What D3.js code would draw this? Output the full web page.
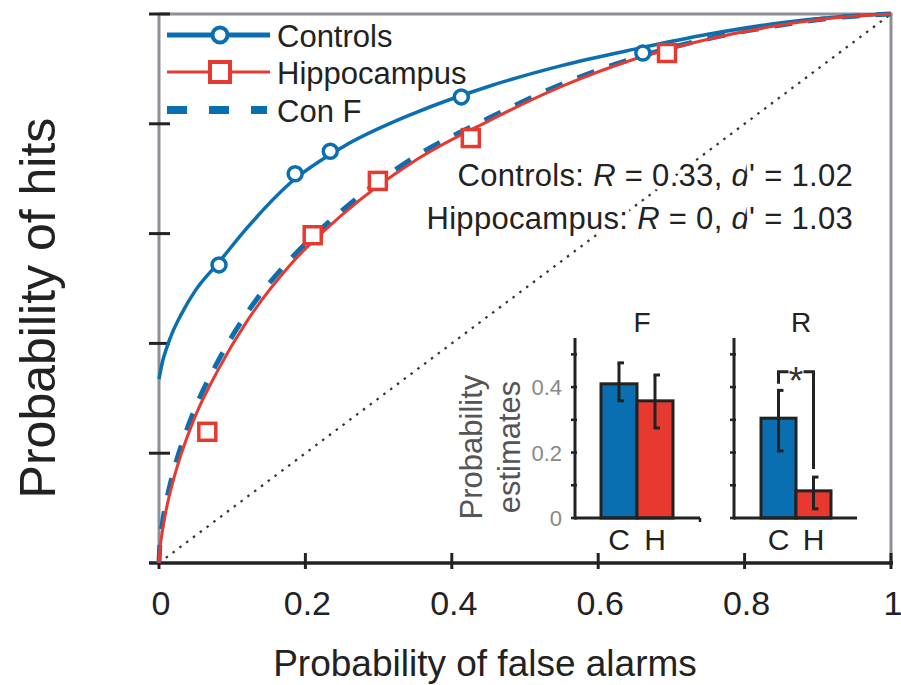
<!DOCTYPE html>
<html>
<head>
<meta charset="utf-8">
<script src="https://cdn.jsdelivr.net/npm/d3@7"></script>
<style>
  body { margin: 0; background: #fff; }
  svg { display: block; font-family: "Liberation Sans", Arial, sans-serif; }
</style>
</head>
<body>
<div id="chartArea"></div>
<script>
// ROC data
const xTicks = [0, 0.2, 0.4, 0.6, 0.8, 1];
const yTicks = [0, 0.2, 0.4, 0.6, 0.8, 1];

// observed points
const controlsFA = [0.082, 0.186, 0.234, 0.413, 0.661];
const controlsHit = [0.543, 0.709, 0.750, 0.849, 0.929];
const hippoFA = [0.066, 0.210, 0.299, 0.426, 0.694];
const hippoHit = [0.239, 0.597, 0.696, 0.774, 0.929];

// fitted curves
const controlsCurveFA = [0, 0.005, 0.01, 0.02, 0.03, 0.05, 0.08, 0.12, 0.18, 0.25, 0.35, 0.45, 0.55, 0.65, 0.75, 0.85, 0.93, 1];
const controlsCurveHit = [0.335, 0.368, 0.390, 0.425, 0.452, 0.497, 0.545, 0.610, 0.693, 0.757, 0.820, 0.868, 0.906, 0.936, 0.963, 0.984, 0.995, 1];
const hippoCurveFA = [0, 0.001, 0.005, 0.01, 0.02, 0.03, 0.05, 0.08, 0.12, 0.18, 0.25, 0.35, 0.45, 0.55, 0.65, 0.75, 0.85, 0.93, 1];
const hippoCurveHit = [0, 0.020, 0.061, 0.098, 0.153, 0.197, 0.269, 0.350, 0.440, 0.544, 0.634, 0.733, 0.805, 0.868, 0.918, 0.954, 0.980, 0.994, 1];
const conFCurveHit = [0, 0.030, 0.075, 0.112, 0.168, 0.212, 0.284, 0.366, 0.455, 0.554, 0.642, 0.740, 0.810, 0.872, 0.920, 0.955, 0.980, 0.994, 1];

const legendLabels = ["Controls", "Hippocampus", "Con F"];

// inset bars
const groups = ["C", "H"];
const famMeans = [0.41, 0.358];
const famLow = [0.358, 0.275];
const famHigh = [0.474, 0.437];
const recMeans = [0.305, 0.083];
const recLow = [0.205, 0.028];
const recHigh = [0.39, 0.125];
const insetTicks = [0, 0.1, 0.2, 0.3, 0.4, 0.5];
const insetTickLabels = [0, 0.2, 0.4];

const blue = "#0a6fb0";
const red = "#e63a30";
const grey = "#8b9097";
const ink = "#222";

const svg = d3.select("#chartArea").append("svg")
  .attr("width", 901)
  .attr("height", 685);

const x = d3.scaleLinear().domain([0, 1]).range([159, 891]);
const y = d3.scaleLinear().domain([0, 1]).range([563, 14]);

// frame: grey left / top / right
svg.append("line").attr("x1", x(0)).attr("x2", x(0)).attr("y1", y(1)).attr("y2", y(0))
  .attr("stroke", grey).attr("stroke-width", 3);
svg.append("line").attr("x1", x(0)).attr("x2", x(1) + 1.5).attr("y1", y(1)).attr("y2", y(1))
  .attr("stroke", grey).attr("stroke-width", 3);
svg.append("line").attr("x1", x(1)).attr("x2", x(1)).attr("y1", y(1)).attr("y2", y(0))
  .attr("stroke", grey).attr("stroke-width", 3);

// chance diagonal
svg.append("line").attr("x1", x(0)).attr("y1", y(0)).attr("x2", x(1)).attr("y2", y(1))
  .attr("stroke", "#333").attr("stroke-width", 2.2).attr("stroke-dasharray", "2.5,6");

// y ticks (no labels)
svg.selectAll(".ytick").data(yTicks.slice(1)).enter().append("line")
  .attr("x1", x(0) - 10).attr("x2", x(0) + 11)
  .attr("y1", d => y(d)).attr("y2", d => y(d))
  .attr("stroke", ink).attr("stroke-width", 3);

// x axis
svg.append("line").attr("x1", x(0) - 10).attr("x2", x(1) + 2).attr("y1", y(0)).attr("y2", y(0))
  .attr("stroke", ink).attr("stroke-width", 3.5);
svg.selectAll(".xtick").data(xTicks).enter().append("line")
  .attr("x1", d => x(d)).attr("x2", d => x(d))
  .attr("y1", y(0) - 10).attr("y2", y(0) + 6)
  .attr("stroke", ink).attr("stroke-width", 3);
svg.selectAll(".xlab").data(xTicks).enter().append("text")
  .attr("x", d => x(d) + 2).attr("y", 615)
  .attr("text-anchor", "middle").attr("font-size", 34).attr("fill", ink)
  .text(d => d);

svg.append("text").attr("x", 485).attr("y", 676)
  .attr("text-anchor", "middle").attr("font-size", 37).attr("fill", ink)
  .text("Probability of false alarms");
svg.append("text").attr("transform", "translate(55,308) rotate(-90)")
  .attr("text-anchor", "middle").attr("font-size", 50).attr("fill", ink)
  .text("Probability of hits");

// curves
const line = d3.line().x(d => x(d[0])).y(d => y(d[1])).curve(d3.curveMonotoneX);
svg.append("path").datum(hippoCurveFA.map((f, i) => [f, conFCurveHit[i]]))
  .attr("d", line).attr("fill", "none").attr("stroke", blue)
  .attr("stroke-width", 5).attr("stroke-dasharray", "18,16");
svg.append("path").datum(controlsCurveFA.map((f, i) => [f, controlsCurveHit[i]]))
  .attr("d", line).attr("fill", "none").attr("stroke", blue).attr("stroke-width", 3.5);
svg.append("path").datum(hippoCurveFA.map((f, i) => [f, hippoCurveHit[i]]))
  .attr("d", line).attr("fill", "none").attr("stroke", red).attr("stroke-width", 3);

// markers
svg.selectAll(".cpt").data(controlsFA).enter().append("circle")
  .attr("cx", d => x(d)).attr("cy", (d, i) => y(controlsHit[i])).attr("r", 7)
  .attr("fill", "#fff").attr("stroke", blue).attr("stroke-width", 3.5);
svg.selectAll(".hpt").data(hippoFA).enter().append("rect")
  .attr("x", d => x(d) - 8.5).attr("y", (d, i) => y(hippoHit[i]) - 8.5)
  .attr("width", 17).attr("height", 17)
  .attr("fill", "#fff").attr("stroke", red).attr("stroke-width", 3.5);

// legend
const legY = [35, 72, 110];
const leg = svg.append("g");
leg.append("line").attr("x1", 167).attr("x2", 270).attr("y1", legY[0]).attr("y2", legY[0])
  .attr("stroke", blue).attr("stroke-width", 5);
leg.append("circle").attr("cx", 220).attr("cy", legY[0]).attr("r", 7.5)
  .attr("fill", "#fff").attr("stroke", blue).attr("stroke-width", 4);
leg.append("line").attr("x1", 167).attr("x2", 270).attr("y1", legY[1]).attr("y2", legY[1])
  .attr("stroke", red).attr("stroke-width", 3);
leg.append("rect").attr("x", 210).attr("y", legY[1] - 10).attr("width", 20).attr("height", 20)
  .attr("fill", "#fff").attr("stroke", red).attr("stroke-width", 4);
leg.append("line").attr("x1", 167).attr("x2", 267).attr("y1", legY[2]).attr("y2", legY[2])
  .attr("stroke", blue).attr("stroke-width", 8).attr("stroke-dasharray", "20,22");
leg.selectAll("text").data(legendLabels).enter().append("text")
  .attr("x", 277).attr("y", (d, i) => legY[i] + 12)
  .attr("font-size", 31).attr("fill", ink)
  .text(d => d);

// fit annotation (white halo hides the diagonal behind it)
const ann = svg.append("g").attr("font-size", 31).attr("fill", ink).attr("text-anchor", "end")
  .attr("letter-spacing", 0.3)
  .attr("stroke", "#fff").attr("stroke-width", 8).attr("paint-order", "stroke");
const a1 = ann.append("text").attr("x", 853).attr("y", 186);
a1.append("tspan").text("Controls:  ");
a1.append("tspan").attr("font-style", "italic").text("R");
a1.append("tspan").text(" = 0.33, ");
a1.append("tspan").attr("font-style", "italic").text("d");
a1.append("tspan").text("' = 1.02");
const a2 = ann.append("text").attr("x", 853).attr("y", 229);
a2.append("tspan").text("Hippocampus: ");
a2.append("tspan").attr("font-style", "italic").text("R");
a2.append("tspan").text(" = 0, ");
a2.append("tspan").attr("font-style", "italic").text("d");
a2.append("tspan").text("' = 1.03");

// inset
const yi = d3.scaleLinear().domain([0, 0.55]).range([518, 338]);

function panel(x0, x1, barRange, means, lo, hi, title, withLabels) {
  const g = svg.append("g");
  const xb = d3.scaleBand().domain(groups).range(barRange);
  g.append("text").attr("x", (barRange[0] + barRange[1]) / 2 + 5).attr("y", 332)
    .attr("text-anchor", "middle").attr("font-size", 28).attr("fill", ink).text(title);
  g.selectAll(".bar").data(means).enter().append("rect")
    .attr("x", (d, i) => xb(groups[i])).attr("width", xb.bandwidth())
    .attr("y", d => yi(d)).attr("height", d => yi(0) - yi(d))
    .attr("fill", (d, i) => i === 0 ? blue : red)
    .attr("stroke", ink).attr("stroke-width", 3);
  g.selectAll(".eb").data(means).enter().append("line")
    .attr("x1", (d, i) => xb(groups[i]) + xb.bandwidth() / 2)
    .attr("x2", (d, i) => xb(groups[i]) + xb.bandwidth() / 2)
    .attr("y1", (d, i) => yi(lo[i])).attr("y2", (d, i) => yi(hi[i]))
    .attr("stroke", ink).attr("stroke-width", 3);
  ["lo", "hi"].forEach(k => {
    g.selectAll(".cap" + k).data(means).enter().append("line")
      .attr("x1", (d, i) => xb(groups[i]) + xb.bandwidth() / 2 - 1.5)
      .attr("x2", (d, i) => xb(groups[i]) + xb.bandwidth() / 2 + 5)
      .attr("y1", (d, i) => yi(k === "lo" ? lo[i] : hi[i]))
      .attr("y2", (d, i) => yi(k === "lo" ? lo[i] : hi[i]))
      .attr("stroke", ink).attr("stroke-width", 3);
  });
  // axes
  g.append("line").attr("x1", x0).attr("x2", x0).attr("y1", 338).attr("y2", yi(0) + 1.5)
    .attr("stroke", ink).attr("stroke-width", 3);
  g.append("line").attr("x1", x0).attr("x2", x1).attr("y1", yi(0)).attr("y2", yi(0))
    .attr("stroke", ink).attr("stroke-width", 3);
  g.selectAll(".it").data(insetTicks).enter().append("line")
    .attr("x1", x0 - 4).attr("x2", x0 + 2)
    .attr("y1", d => yi(d)).attr("y2", d => yi(d))
    .attr("stroke", ink).attr("stroke-width", 2.5);
  g.selectAll(".gl").data(groups).enter().append("text")
    .attr("x", d => xb(d) + xb.bandwidth() / 2).attr("y", 550)
    .attr("text-anchor", "middle").attr("font-size", 30).attr("fill", ink).text(d => d);
  if (withLabels) {
    g.selectAll(".il").data(insetTickLabels).enter().append("text")
      .attr("x", x0 - 13).attr("y", d => yi(d) + 8)
      .attr("text-anchor", "end").attr("font-size", 22).attr("fill", "#888").text(d => d);
  }
  return { g, xb };
}

const pF = panel(575, 700, [601, 673], famMeans, famLow, famHigh, "F", true);
pF.g.append("line").attr("x1", 700).attr("x2", 700).attr("y1", yi(0)).attr("y2", yi(0) + 4)
  .attr("stroke", ink).attr("stroke-width", 2.5);
const pR = panel(734, 857, [761, 831], recMeans, recLow, recHigh, "R", false);

// significance bracket
const bc = pR.xb("C") + pR.xb.bandwidth() / 2;
const bh = pR.xb("H") + pR.xb.bandwidth() / 2;
const br = svg.append("g").attr("stroke", ink).attr("stroke-width", 3).attr("fill", "none");
br.append("path").attr("d", `M${bc},${yi(0.41)}V${yi(0.447)}H${bc + 10}`);
br.append("path").attr("d", `M${bh},${yi(0.15)}V${yi(0.447)}H${bh - 10}`);
svg.append("text").attr("x", (bc + bh) / 2).attr("y", 394)
  .attr("text-anchor", "middle").attr("font-size", 38).attr("fill", "#333").text("*");

// inset y label
const il = svg.append("g").attr("font-size", 31).attr("fill", "#555").attr("text-anchor", "middle");
il.append("text").attr("transform", "translate(482,447) rotate(-90)").text("Probability");
il.append("text").attr("transform", "translate(520,447) rotate(-90)").text("estimates");
</script>
</body>
</html>
